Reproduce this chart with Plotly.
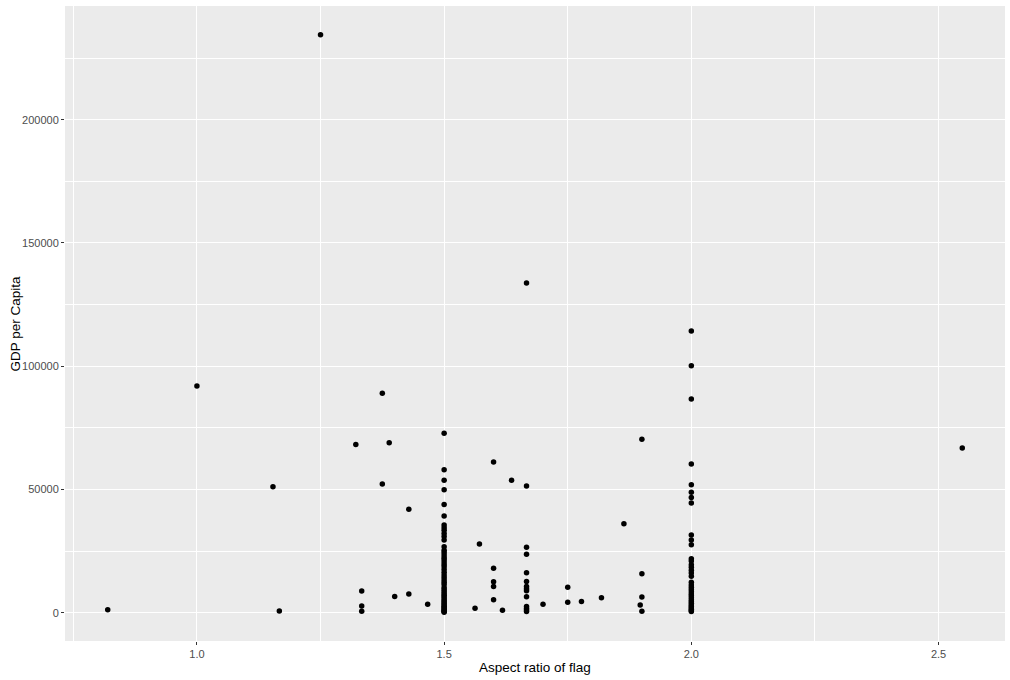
import plotly.graph_objects as go

# Single / small-group points (aspect ratio, GDP per capita)
other_ratio = [0.8196, 1.0, 1.1538, 1.1667, 1.25, 1.3214, 1.3333, 1.3333, 1.3333,
               1.375, 1.375, 1.3889, 1.4, 1.4286, 1.4286, 1.4667, 1.5625, 1.5714,
               1.6, 1.6, 1.6, 1.6, 1.6, 1.618, 1.6364, 1.7, 1.75, 1.75, 1.7778,
               1.8182, 1.8636, 1.9, 1.9, 1.9, 1.9, 1.8966, 2.548]
other_gdp = [1300, 92000, 51100, 800, 234400, 68300, 8900, 2800, 700,
             89100, 52300, 69000, 6600, 42000, 7700, 3500, 1900, 27900,
             61200, 18100, 12600, 10700, 5300, 1100, 53800, 3500, 10400, 4300, 4600,
             6100, 36100, 70400, 15900, 6400, 700, 3200, 66900]

# Ratio 3:2 (1.5)
gdp_ratio_1_5 = [72800, 58000, 53800, 49900, 43900, 39300, 35600, 34500, 33500, 32200,
                 31000, 29600, 26800, 25400, 24500, 23500, 22500, 21600, 20600, 19600,
                 18700, 17600, 16500, 15400, 14300, 13300, 12400, 11500, 10300, 9500,
                 8700, 7900, 7100, 6400, 5700, 5000, 4400, 3800, 3200, 2700, 2200,
                 1700, 1300, 900, 600, 300]

# Ratio 5:3 (1.667)
gdp_ratio_5_3 = [133800, 51500, 26600, 23800, 16300, 12700, 10700, 9800, 9000, 6500,
                 2600, 1800, 1200, 600]

# Ratio 2:1 (2.0)
gdp_ratio_2 = [114300, 100200, 86700, 60400, 52000, 48900, 46800, 44600, 31600, 29600,
               27600, 22000, 21000, 19500, 18500, 17300, 16200, 14900, 12400, 11300,
               10400, 9500, 8600, 7700, 6900, 6100, 5300, 4600, 3900, 3200, 2600,
               2000, 1500, 1000, 600]

x_ticks = [1.0, 1.5, 2.0, 2.5]
x_tick_labels = ["1.0", "1.5", "2.0", "2.5"]
y_ticks = [0, 50000, 100000, 150000, 200000]
y_tick_labels = ["0", "50000", "100000", "150000", "200000"]
x_title = "Aspect ratio of flag"
y_title = "GDP per Capita"

aspect_ratio = (other_ratio + [1.5] * len(gdp_ratio_1_5)
                + [5 / 3] * len(gdp_ratio_5_3) + [2.0] * len(gdp_ratio_2))
gdp_per_capita = other_gdp + gdp_ratio_1_5 + gdp_ratio_5_3 + gdp_ratio_2

fig = go.Figure(go.Scatter(
    x=aspect_ratio, y=gdp_per_capita, mode="markers",
    marker=dict(color="black", size=5.5, line=dict(width=0)),
    hoverinfo="x+y"))

xmin, xmax = min(aspect_ratio), max(aspect_ratio)
ymin, ymax = min(gdp_per_capita), max(gdp_per_capita)
xpad = (xmax - xmin) * 0.05
ypad = (ymax - ymin) * 0.05

axis_common = dict(
    showgrid=True, gridcolor="white", gridwidth=1.3, zeroline=False,
    showline=False, ticks="outside", ticklen=3, tickwidth=1, tickcolor="#333333",
    tickfont=dict(family="Liberation Sans, Arial", size=11, color="#4D4D4D"),
    automargin=False,
)

fig.update_layout(
    width=1010, height=680,
    paper_bgcolor="white", plot_bgcolor="#EBEBEB",
    margin=dict(l=65, r=5, t=6, b=39),
    showlegend=False,
    font=dict(family="Liberation Sans, Arial", color="black"),
    xaxis=dict(
        axis_common,
        range=[xmin - xpad, xmax + xpad],
        tickmode="array", tickvals=x_ticks, ticktext=x_tick_labels,
        minor=dict(tickmode="array", tickvals=[0.75, 1.25, 1.75, 2.25],
                   showgrid=True, gridcolor="white", gridwidth=0.6, ticks=""),
    ),
    yaxis=dict(
        axis_common,
        range=[ymin - ypad, ymax + ypad],
        tickmode="array", tickvals=y_ticks, ticktext=y_tick_labels,
        minor=dict(tickmode="array", tickvals=[25000, 75000, 125000, 175000, 225000],
                   showgrid=True, gridcolor="white", gridwidth=0.6, ticks=""),
    ),
    annotations=[
        dict(text=x_title, xref="paper", yref="paper", x=0.5, y=0,
             yshift=-26, xanchor="center", yanchor="middle", showarrow=False,
             font=dict(size=13.5, color="black")),
        dict(text=y_title, xref="paper", yref="paper", x=0, y=0.5,
             xshift=-50, xanchor="center", yanchor="middle", showarrow=False,
             textangle=-90, font=dict(size=13.5, color="black")),
    ],
)

fig.write_html("out.html", config={"displayModeBar": False},
               post_script="document.body.style.margin='0';document.body.style.overflow='hidden';")
